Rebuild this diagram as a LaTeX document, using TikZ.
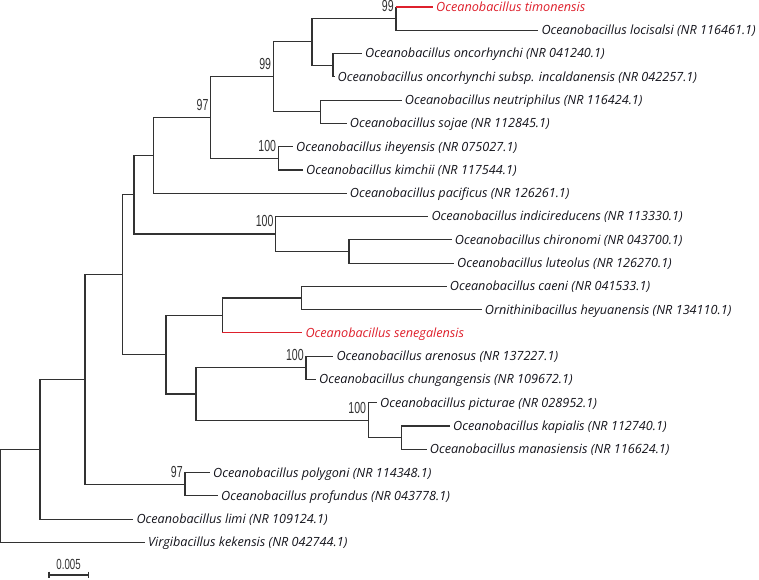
\documentclass[tikz,border=0pt]{standalone}
\usepackage{fontspec}
\setmainfont{Open Sans}
\newfontfamily\bootfont[FakeStretch=0.66]{Liberation Sans}
\usepackage{tikz}
\usetikzlibrary{positioning}
\definecolor{TreeGray}{RGB}{50,50,50}
\definecolor{TreeInk}{RGB}{20,20,28}
\definecolor{TreeRed}{RGB}{222,32,44}

\begin{document}
\begin{tikzpicture}[
        x=0.75pt, y=-0.75pt,
        branch/.style={
            draw=TreeGray,
            line width=0.85pt
        },
        newbranch/.style={
            branch,
            draw=TreeRed
        },
        leaf/.style={
            anchor=base west,
            yshift=-3.3pt,
            inner sep=2.2pt,
            text=TreeInk,
            font=\fontsize{9.5}{11}\selectfont\itshape
        },
        newleaf/.style={
            leaf,
            text=TreeRed
        },
        boot/.style={
            anchor=east,
            inner sep=0pt,
            xshift=-1.5pt,
            yshift=9.5pt,
            text=TreeGray,
            font=\fontsize{12}{13}\bootfont
        },
        scalelabel/.style={
            anchor=south,
            inner sep=0pt,
            text=TreeGray,
            font=\fontsize{11}{12}\bootfont
        }
    ]

    \useasboundingbox (0,0) rectangle (759,579);

    % Tips
    \coordinate (tTim) at (433,7);
    \coordinate (tLoc) at (538.3,30.28);
    \coordinate (tOnc) at (362,53.56);
    \coordinate (tInc) at (334.5,76.84);
    \coordinate (tNeu) at (401.7,100.12);
    \coordinate (tSoj) at (346.7,123.4);
    \coordinate (tIhe) at (293,146.68);
    \coordinate (tKim) at (303,169.96);
    \coordinate (tPac) at (346.7,193.24);
    \coordinate (tInd) at (428.3,216.52);
    \coordinate (tChi) at (451.7,239.8);
    \coordinate (tLut) at (454,263.08);
    \coordinate (tCae) at (446.7,286.36);
    \coordinate (tHey) at (481.7,309.64);
    \coordinate (tSen) at (302.3,332.92);
    \coordinate (tAre) at (333.3,356.2);
    \coordinate (tChu) at (316,379.48);
    \coordinate (tPic) at (377,402.76);
    \coordinate (tKap) at (450,426.04);
    \coordinate (tMan) at (426.7,449.32);
    \coordinate (tPol) at (210,472.6);
    \coordinate (tPro) at (218,495.88);
    \coordinate (tLim) at (133.3,519.16);
    \coordinate (tKek) at (145,542.44);

    % Internal nodes
    \coordinate (nTim) at (396,18.64);
    \coordinate (nOnc) at (333,65.2);
    \coordinate (nA) at (312,41.92);
    \coordinate (nNeu) at (320.7,111.76);
    \coordinate (n99) at (273.3,76.84);
    \coordinate (nIhe) at (278.3,158.32);
    \coordinate (n97) at (210.7,117.58);
    \coordinate (nPac) at (153.3,155.41);
    \coordinate (nChi) at (349,251.44);
    \coordinate (nInd) at (275.7,233.98);
    \coordinate (nB) at (134,194.7);
    \coordinate (nCae) at (301.7,298);
    \coordinate (nSen) at (222.3,315.46);
    \coordinate (nAre) at (306,367.84);
    \coordinate (nKap) at (401.7,437.68);
    \coordinate (nPic) at (368.3,420.22);
    \coordinate (nG) at (196,394.03);
    \coordinate (nD) at (166,354.75);
    \coordinate (nC) at (122.7,274.7);
    \coordinate (nPol) at (185,484.24);
    \coordinate (nJ) at (85,379.47);
    \coordinate (nL) at (40,449.3);
    \coordinate (root) at (0.6,495.87);

    % Branches
    \draw[branch] (nTim) -- (nTim |- tTim);
    \draw[newbranch] (nTim |- tTim) -- (tTim);
    \draw[branch] (nTim) |- (tLoc);
    \draw[branch] (nOnc) |- (tOnc);
    \draw[branch] (nOnc) |- (tInc);
    \draw[branch] (nA) |- (nTim);
    \draw[branch] (nA) |- (nOnc);
    \draw[branch] (nNeu) |- (tNeu);
    \draw[branch] (nNeu) |- (tSoj);
    \draw[branch] (n99) |- (nA);
    \draw[branch] (n99) |- (nNeu);
    \draw[branch] (nIhe) |- (tIhe);
    \draw[branch] (nIhe) |- (tKim);
    \draw[branch] (n97) |- (n99);
    \draw[branch] (n97) |- (nIhe);
    \draw[branch] (nPac) |- (n97);
    \draw[branch] (nPac) |- (tPac);
    \draw[branch] (nChi) |- (tChi);
    \draw[branch] (nChi) |- (tLut);
    \draw[branch] (nInd) |- (tInd);
    \draw[branch] (nInd) |- (nChi);
    \draw[branch] (nB) |- (nPac);
    \draw[branch] (nB) |- (nInd);
    \draw[branch] (nCae) |- (tCae);
    \draw[branch] (nCae) |- (tHey);
    \draw[branch] (nSen) |- (nCae);
    \draw[branch] (nSen) -- (nSen |- tSen);
    \draw[newbranch] (nSen |- tSen) -- (tSen);
    \draw[branch] (nAre) |- (tAre);
    \draw[branch] (nAre) |- (tChu);
    \draw[branch] (nKap) |- (tKap);
    \draw[branch] (nKap) |- (tMan);
    \draw[branch] (nPic) |- (tPic);
    \draw[branch] (nPic) |- (nKap);
    \draw[branch] (nG) |- (nAre);
    \draw[branch] (nG) |- (nPic);
    \draw[branch] (nD) |- (nSen);
    \draw[branch] (nD) |- (nG);
    \draw[branch] (nC) |- (nB);
    \draw[branch] (nC) |- (nD);
    \draw[branch] (nPol) |- (tPol);
    \draw[branch] (nPol) |- (tPro);
    \draw[branch] (nJ) |- (nC);
    \draw[branch] (nJ) |- (nPol);
    \draw[branch] (nL) |- (nJ);
    \draw[branch] (nL) |- (tLim);
    \draw[branch] (root) |- (nL);
    \draw[branch] (root) |- (tKek);

    % Species labels
    \node[newleaf] (lTim) at (tTim) {Oceanobacillus timonensis};
    \node[leaf] (lLoc) at (tLoc) {Oceanobacillus locisalsi (NR 116461.1)};
    \node[leaf] (lOnc) at (tOnc) {Oceanobacillus oncorhynchi (NR 041240.1)};
    \node[leaf] (lInc) at (tInc) {Oceanobacillus oncorhynchi subsp. incaldanensis (NR 042257.1)};
    \node[leaf] (lNeu) at (tNeu) {Oceanobacillus neutriphilus (NR 116424.1)};
    \node[leaf] (lSoj) at (tSoj) {Oceanobacillus sojae (NR 112845.1)};
    \node[leaf] (lIhe) at (tIhe) {Oceanobacillus iheyensis (NR 075027.1)};
    \node[leaf] (lKim) at (tKim) {Oceanobacillus kimchii (NR 117544.1)};
    \node[leaf] (lPac) at (tPac) {Oceanobacillus pacificus (NR 126261.1)};
    \node[leaf] (lInd) at (tInd) {Oceanobacillus indicireducens (NR 113330.1)};
    \node[leaf] (lChi) at (tChi) {Oceanobacillus chironomi (NR 043700.1)};
    \node[leaf] (lLut) at (tLut) {Oceanobacillus luteolus (NR 126270.1)};
    \node[leaf] (lCae) at (tCae) {Oceanobacillus caeni (NR 041533.1)};
    \node[leaf] (lHey) at (tHey) {Ornithinibacillus heyuanensis (NR 134110.1)};
    \node[newleaf] (lSen) at (tSen) {Oceanobacillus senegalensis};
    \node[leaf] (lAre) at (tAre) {Oceanobacillus arenosus (NR 137227.1)};
    \node[leaf] (lChu) at (tChu) {Oceanobacillus chungangensis (NR 109672.1)};
    \node[leaf] (lPic) at (tPic) {Oceanobacillus picturae (NR 028952.1)};
    \node[leaf] (lKap) at (tKap) {Oceanobacillus kapialis (NR 112740.1)};
    \node[leaf] (lMan) at (tMan) {Oceanobacillus manasiensis (NR 116624.1)};
    \node[leaf] (lPol) at (tPol) {Oceanobacillus polygoni (NR 114348.1)};
    \node[leaf] (lPro) at (tPro) {Oceanobacillus profundus (NR 043778.1)};
    \node[leaf] (lLim) at (tLim) {Oceanobacillus limi (NR 109124.1)};
    \node[leaf] (lKek) at (tKek) {Virgibacillus kekensis (NR 042744.1)};

    % Bootstrap values
    \node[boot] (bTim) at (nTim) {99};
    \node[boot] (b99) at (n99) {99};
    \node[boot] (b97) at (n97) {97};
    \node[boot] (bIhe) at (nIhe) {100};
    \node[boot] (bInd) at (nInd) {100};
    \node[boot] (bAre) at (nAre) {100};
    \node[boot] (bPic) at (nPic) {100};
    \node[boot] (bPol) at (nPol) {97};

    % Scale bar
    \coordinate (sbL) at (49,575);
    \coordinate (sbR) at (88.3,575);
    \draw[branch] (sbL) -- (sbR);
    \draw[branch] ([yshift=2.6pt]sbL) -- ([yshift=-2.6pt]sbL);
    \draw[branch] ([yshift=2.6pt]sbR) -- ([yshift=-2.6pt]sbR);
    \node[scalelabel] (sbText) at (68.6,570) {0.005};

\end{tikzpicture}
\end{document}
